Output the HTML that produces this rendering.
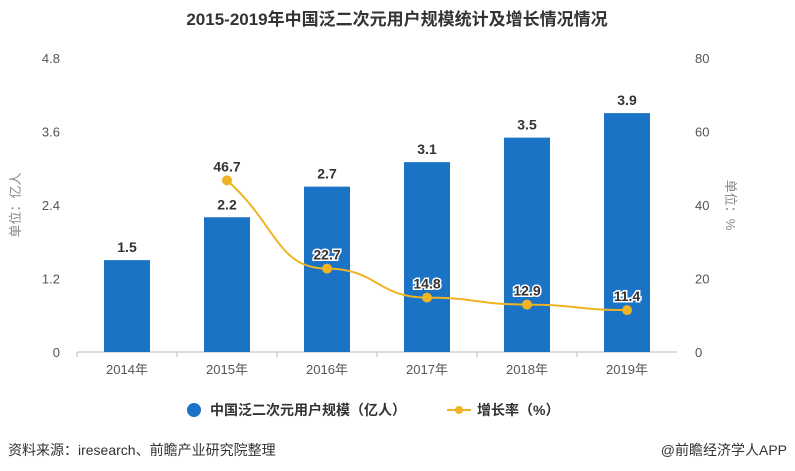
<!DOCTYPE html>
<html><head><meta charset="utf-8"><style>
body{margin:0;background:#fff;width:795px;height:466px;overflow:hidden;font-family:"Liberation Sans","Noto Sans CJK SC",sans-serif}
</style></head><body>
<svg id="c" width="795" height="466" xmlns="http://www.w3.org/2000/svg">
<text x="397" y="25" text-anchor="middle" font-size="17" font-weight="bold" fill="#333">2015-2019年中国泛二次元用户规模统计及增长情况情况</text>
<text transform="translate(20,205) rotate(-90)" text-anchor="middle" font-size="13" fill="#888">单位：亿人</text>
<text transform="translate(726,205) rotate(90)" text-anchor="middle" font-size="13" fill="#888">单位：%</text>
<g id="plot"></g>
<g>
<circle cx="194" cy="410" r="7" fill="#1a73c4"/>
<text x="210" y="415" font-size="14" fill="#333" font-weight="bold">中国泛二次元用户规模（亿人）</text>
<line x1="447" y1="410" x2="471" y2="410" stroke="#f0b323" stroke-width="2"/>
<circle cx="459" cy="410" r="4" fill="#f0b323"/>
<text x="477" y="415" font-size="14" fill="#333" font-weight="bold">增长率（%）</text>
</g>
<text x="8" y="455" font-size="14" fill="#333">资料来源：iresearch、前瞻产业研究院整理</text>
<text x="787" y="455" text-anchor="end" font-size="14" fill="#333">@前瞻经济学人APP</text>
</svg>
<script>
const categories=["2014年","2015年","2016年","2017年","2018年","2019年"];
const userValues=[1.5,2.2,2.7,3.1,3.5,3.9];
const growthValues=[null,46.7,22.7,14.8,12.9,11.4];
const leftTicks=[0,1.2,2.4,3.6,4.8];
const rightTicks=[0,20,40,60,80];
const ns="http://www.w3.org/2000/svg";
const g=document.getElementById('plot');
const X0=77,X1=677,Y0=352,Y1=58;
const band=(X1-X0)/categories.length;
const xc=i=>X0+band*(i+0.5);
const yl=v=>Y0-(v/4.8)*(Y0-Y1);
const yr=v=>Y0-(v/80)*(Y0-Y1);
function mk(t,a,txt){const e=document.createElementNS(ns,t);for(const k in a)e.setAttribute(k,a[k]);if(txt!=null)e.textContent=txt;g.appendChild(e);return e;}
leftTicks.forEach((v,i)=>{const e=mk('text',{x:60,y:yl(v)+5,'text-anchor':'end','font-size':13,fill:'#555'},v===0?'0':v.toFixed(1));

});
rightTicks.forEach(v=>{const e=mk('text',{x:695,y:yr(v)+5,'font-size':13,fill:'#555'},String(v));

});
const ax=mk('line',{x1:X0,y1:Y0,x2:X1,y2:Y0,stroke:'#bbb'});


categories.forEach((c,i)=>{
const e=mk('text',{x:xc(i),y:Y0+22,'text-anchor':'middle','font-size':13,fill:'#555'},c);


const tk=mk('line',{x1:X0+band*i,y1:Y0,x2:X0+band*i,y2:Y0+5,stroke:'#bbb'});


const v=userValues[i];
const b=mk('rect',{x:xc(i)-23,y:yl(v),width:46,height:Y0-yl(v),fill:'#1a73c4'});


const l=mk('text',{x:xc(i),y:yl(v)-8,'text-anchor':'middle','font-size':14,'font-weight':'bold',fill:'#333'},v.toFixed(1));


});
const pts=[];growthValues.forEach((v,i)=>{if(v!=null)pts.push([xc(i),yr(v),v]);});
let d='M'+pts[0][0]+','+pts[0][1];
for(let k=1;k<pts.length;k++){const p=pts[k-1],q=pts[k];const m=(q[0]-p[0])/2;d+=` C${p[0]+m},${k===1?p[1]+ (q[1]-p[1])*0.5:p[1]} ${q[0]-m},${q[1]} ${q[0]},${q[1]}`;}
const ln=mk('path',{d:d,fill:'none',stroke:'#f0b323','stroke-width':2});


pts.forEach(p=>{
const c=mk('circle',{cx:p[0],cy:p[1],r:5,fill:'#f0b323'});


const t=mk('text',{x:p[0],y:p[1]-9,'text-anchor':'middle','font-size':14,'font-weight':'bold',fill:'#333',stroke:'#fff','stroke-width':3,'paint-order':'stroke'},p[2].toFixed(1));


});
</script>
</body></html>
